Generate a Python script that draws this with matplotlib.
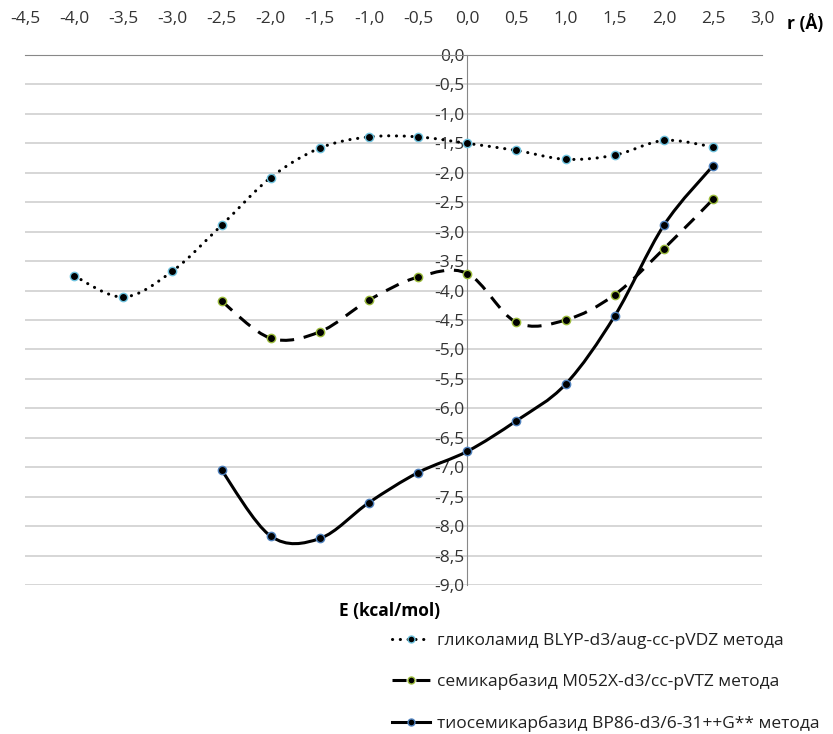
import numpy as np
import matplotlib.pyplot as plt
from matplotlib.path import Path
from matplotlib.patches import PathPatch
from matplotlib.lines import Line2D
from matplotlib.ticker import FuncFormatter, MultipleLocator

plt.rcParams['font.family'] = ['Open Sans', 'DejaVu Sans']

# Data
x_gly = [-4.0, -3.5, -3.0, -2.5, -2.0, -1.5, -1.0, -0.5, 0.0, 0.5, 1.0, 1.5, 2.0, 2.5]
e_gly = [-3.75, -4.11, -3.67, -2.89, -2.08, -1.58, -1.39, -1.39, -1.50, -1.62, -1.77, -1.70, -1.45, -1.56]

x_semi = [-2.5, -2.0, -1.5, -1.0, -0.5, 0.0, 0.5, 1.0, 1.5, 2.0, 2.5]
e_semi = [-4.18, -4.81, -4.70, -4.16, -3.77, -3.71, -4.54, -4.50, -4.07, -3.29, -2.45]

x_thio = [-2.5, -2.0, -1.5, -1.0, -0.5, 0.0, 0.5, 1.0, 1.5, 2.0, 2.5]
e_thio = [-7.05, -8.17, -8.21, -7.60, -7.09, -6.73, -6.21, -5.59, -4.43, -2.89, -1.88]

labels = ["гликоламид BLYP-d3/aug-cc-pVDZ метода",
          "семикарбазид M052X-d3/cc-pVTZ метода",
          "тиосемикарбазид BP86-d3/6-31++G** метода"]


def smooth_path(xs, ys):
    # Excel-style smoothed line: cubic bezier through every point
    p = np.column_stack([xs, ys])
    n = len(p)
    verts = [p[0]]
    codes = [Path.MOVETO]
    for i in range(n - 1):
        p0 = p[i - 1] if i > 0 else p[i]
        p3 = p[i + 2] if i + 2 < n else p[i + 1]
        c1 = p[i] + (p[i + 1] - p0) / 6
        c2 = p[i + 1] - (p3 - p[i]) / 6
        verts += [c1, c2, p[i + 1]]
        codes += [Path.CURVE4] * 3
    return Path(verts, codes)


fig = plt.figure(figsize=(8.33, 7.34), dpi=100)
ax = fig.add_axes([0.030, 0.203, 0.885, 0.722])

ax.set_xlim(-4.5, 3.0)
ax.set_ylim(-9.0, 0.0)

LW = 2.2
styles = [
    dict(ls=(0, (0.05, 2.5)), color='#6fc3df', cap='round'),
    dict(ls=(0, (4.6, 3.2)), color='#9bbb3b', cap='butt'),
    dict(ls='-', color='#4f81bd', cap='butt'),
]
series = [(x_gly, e_gly), (x_semi, e_semi), (x_thio, e_thio)]

handles = []
for (xs, ys), st in zip(series, styles):
    patch = PathPatch(smooth_path(xs, ys), fill=False, lw=LW, ec='black',
                      ls=st['ls'], capstyle=st['cap'], zorder=3)
    ax.add_patch(patch)
    ax.plot(xs, ys, 'o', ms=6, mfc='black', mec=st['color'], mew=1.0, zorder=4)
    handles.append(Line2D([], [], color='black', lw=LW, ls=st['ls'],
                          dash_capstyle=st['cap'],
                          marker='o', ms=5, mfc='black', mec=st['color'], mew=1.0))

# axes and grid
ax.xaxis.set_major_locator(MultipleLocator(0.5))
ax.yaxis.set_major_locator(MultipleLocator(0.5))
fmt = FuncFormatter(lambda v, pos: f"{v:.1f}".replace('.', ',').replace('-0,0', '0,0'))
ax.xaxis.set_major_formatter(fmt)
ax.yaxis.set_major_formatter(fmt)
ax.xaxis.tick_top()
ax.tick_params(axis='x', length=0, pad=20, labelsize=12.5, colors='#333333')
ax.tick_params(axis='y', length=0, pad=2, labelsize=12.5, colors='#333333')
ax.grid(axis='y', color='#d0d0d0', lw=1.2)
ax.set_axisbelow(True)

for s in ['right', 'bottom']:
    ax.spines[s].set_visible(False)
ax.spines['top'].set_color('#888888')
ax.spines['left'].set_position(('data', 0))
ax.spines['left'].set_color('#888888')

fig.text(0.966, 0.968, "r (Å)", fontsize=12.5, fontweight='bold', ha='center', va='center')
fig.text(0.468, 0.167, "E (kcal/mol)", fontsize=12.5, fontweight='bold', ha='center', va='center')

fig.legend(handles, labels, loc='upper left', bbox_to_anchor=(0.466, 0.143),
           frameon=False, fontsize=12.5, handlelength=2.2, handletextpad=0.4,
           labelspacing=1.45, labelcolor='#202020', borderaxespad=0, borderpad=0.2)

fig.savefig("out.png", dpi=100)
